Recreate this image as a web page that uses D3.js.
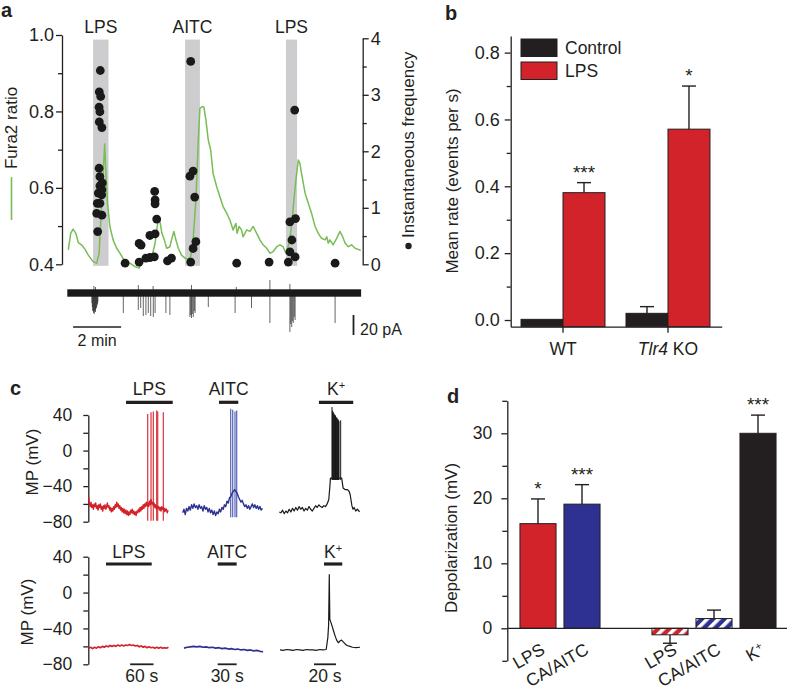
<!DOCTYPE html>
<html><head><meta charset="utf-8">
<script src="https://cdn.jsdelivr.net/npm/d3@7"></script>
<style>
body{margin:0;background:#fff;}
svg{font-family:"Liberation Sans",Arial,Helvetica,sans-serif;display:block;}
</style></head><body>
<svg id="chart" width="788" height="693"></svg>
<script>
// ================= DATA =================
// Panel a: Fura2 ratio trace (time s, ratio)
const furaTime = [0,6,12,19,25,33,42,50,62,71,77,83,88,91,94,98,104,112,121,129,142,154,167,177,183,189,196,204,211,217,221,226,230,234,240,246,254,258,264,269,275,283,292,300,306,312,319,325,329,335,339,344,350,356,362,371,379,387,396,404,412,419,422,427,433,437,446,454,462,471,479,487,496,504,512,521,529,537,544,547,552,558,564,569,575,579,583,592,600,608,617,625,633,642,646,650,654,662,671,679,686,692,700,708,717,725,731];
const furaRatio = [0.438,0.481,0.492,0.481,0.457,0.451,0.439,0.424,0.407,0.403,0.429,0.551,0.656,0.715,0.638,0.560,0.499,0.464,0.442,0.429,0.407,0.403,0.394,0.390,0.403,0.413,0.420,0.422,0.429,0.455,0.490,0.525,0.507,0.481,0.464,0.442,0.446,0.464,0.486,0.464,0.442,0.424,0.416,0.413,0.420,0.464,0.568,0.725,0.808,0.813,0.811,0.778,0.725,0.699,0.638,0.603,0.577,0.551,0.534,0.516,0.490,0.507,0.481,0.499,0.490,0.472,0.490,0.486,0.499,0.481,0.464,0.451,0.442,0.429,0.433,0.446,0.451,0.446,0.429,0.438,0.455,0.499,0.568,0.621,0.673,0.664,0.638,0.586,0.560,0.534,0.499,0.481,0.468,0.464,0.472,0.455,0.464,0.451,0.468,0.486,0.472,0.455,0.446,0.451,0.442,0.439,0.436];
// Panel a: instantaneous frequency events (time s, Hz)
const freqTime  = [80,77.5,81,77,79,77.5,84,77,79,85,79,84,75,83.5,72.5,79,71,84,73.5,142,177,182,177,194,204,215,204,217,221,217,217,216,248,258,306,304,312,316,319,312,306,421,502,566,554,568,559,554,567,550,667];
const freqValue = [3.43,3.05,2.97,2.78,2.70,2.52,2.42,1.70,1.55,1.44,1.39,1.32,1.26,1.23,1.08,1.08,0.90,0.87,0.58,0.02,0.37,0.34,0.04,0.11,0.12,0.13,0.51,0.54,0.80,1.07,1.14,1.29,0.06,0.11,3.59,1.56,1.65,1.19,0.40,0.28,0.04,0.02,0.04,2.73,0.75,0.81,0.43,0.22,0.13,0.04,0.02];
// Panel a: stimulus windows (s)
const stimA      = ["LPS","AITC","LPS"];
const stimAStart = [62,292,544];
const stimAEnd   = [100.5,329,572];
// Panel a: membrane current events (time s, amplitude pA)
const spikeTime = [59,60,61,62,63,64,65,66,67,68,69,70,71,72,73,74,137.5,175,181,187.5,194,200,206,212.5,217,244,254,304,306,308,310,312.5,315,317,350,417,458,504,554,556,558.5,560,562.5,565,567,667,175,212,308,420,504,554,64,68];
const spikeAmp  = [-10,-14,-18,-17,-20,-19,-21,-18,-17,-19,-16,-15,-14,-12,-11,-9,-20,-17,-15,-23,-22,-20,-23,-24,-20,-20,-22,-24,-22,-25,-21,-24,-18,-20,-14,-20,-15,-30,-39,-31,-34,-28,-30,-24,-27,-30,8,7,8,6,13,9,7,6];
const ratioTicks = [0.4,0.6,0.8,1.0];
const ratioMinorTicks = [0.5,0.7,0.9];
const freqTicks = [0,1,2,3,4];
const freqMinorTicks = [0.5,1.5,2.5,3.5];

// Panel b
const genotypes = ["WT","Tlr4 KO"];
const rateSeries = ["Control","LPS"];
const rateControl    = [0.002,0.02];
const rateControlTop = [0.002,0.04];
const rateLPS        = [0.381,0.571];
const rateLPSTop     = [0.411,0.70];
const rateStars      = ["***","*"];
const rateTicks = [0,0.2,0.4,0.6,0.8];
const rateMinorTicks = [0.1,0.3,0.5,0.7];

// Panel c: traces (mV)
const cTopLpsStep = 2;
const cTopLps = [-52,-60,-63,-58,-64,-61,-66,-60,-63,-59,-65,-62,-67,-61,-64,-60,-66,-63,-68,-62,-65,-61,-66,-63,-59,-64,-62,-67,-64,-69,-65,-68,-63,-66,-61,-64,-58,-63,-60,-65,-62,-67,-64,-69,-65,-70,-66,-71,-67,-72,-68,-73,-69,-72,-67,-70,-66,-71,-68,-72,-69,-73,-68,-70,-66,-69,-64,-68,-63,-66,-61,-65,-60,-63,-58,-62,-59,-63,-57,-61,-55,-60,-58,-62,-59,-64,-61,-66,-62,-65,-63,-67,-64,-68,-63,-66,-64,-69,-65,-68,-66,-70,-67];
const cTopLpsSpikeT = [151.7,160.2,166.1,174.8,177.4,191.8];
const cTopLpsSpikePeak = [41,43,44,45,44,43];
const cTopAitcStep = 2;
const cTopAitc = [-70,-66,-72,-65,-68,-63,-67,-61,-65,-60,-64,-62,-66,-61,-65,-63,-68,-62,-66,-64,-69,-65,-70,-67,-72,-68,-73,-69,-71,-66,-69,-64,-66,-61,-63,-57,-59,-53,-52,-48,-46,-44,-46,-48,-52,-55,-58,-56,-60,-63,-61,-65,-62,-66,-63,-60,-64,-61,-65,-62,-66,-63,-67,-65];
const cTopAitcSpikeT = [75.8,79,82.6,85.3];
const cTopAitcSpikePeak = [47,46,44,45];
const cTopKT = [0,1.5,3,4.5,6,7.5,9,10.5,12,13.5,15,16.5,18,19.5,21,22.5,24,25.5,27,28.5,30,31.5,33,34.5,36,37.5,39,40.5,42,43.5,45,46,46.5,56.7,58,60,62,63.5,64.5,66,67,68,69.5,71,73];
const cTopKV = [-69,-70,-67,-71,-68,-70,-66,-69,-65,-68,-64,-67,-63,-66,-64,-68,-65,-67,-63,-66,-68,-65,-62,-64,-61,-63,-64,-62,-63,-60,-55,-40,-31,-31,-42,-44,-44,-46,-50,-62,-66,-64,-68,-66,-69];
const cTopKSpikeT = [47.9,48.3,48.7,49.1,49.5,49.9,50.3,50.7,51.1,51.5,51.9,52.3,52.7,53.1,53.5,53.9,54.3,55.8];
const cTopKSpikePeak = [49,45,44,43,42,41,40,40,39,38,37,37,36,35,35,34,33,34];
const cBotLpsStep = 5;
const cBotLps = [-62,-61,-62.5,-61,-62,-60.5,-61.5,-60,-61,-59.5,-60.5,-59,-60,-59,-60,-58.5,-59.5,-58.5,-59.5,-58.5,-59,-58,-59,-58.5,-59.5,-59,-60.5,-59.5,-61,-60,-61.5,-60.5,-61.5,-61,-62,-61,-62,-61,-62,-61.5,-62,-61];
const cBotAitcStep = 5;
const cBotAitc = [-62,-61,-60.5,-60,-60.5,-60,-61,-60.5,-61.5,-61,-62,-61.5,-62.5,-62,-63,-62.5,-63.5,-63,-64,-63.5,-64.5,-64,-65,-64.5,-65.5,-66];
const cBotKT = [0,3,6,9,12,15,18,21,24,27,30,33,36,39,42,43.5,44.2,44.8,45.3,46.2,47,48.5,50,51.5,53,54.5,56,57.5,59,61,63.6,66,69,72.7];
const cBotKV = [-64,-64.5,-63.5,-64,-64.5,-63.5,-64,-64.5,-63.5,-64,-64,-64.5,-63.5,-64,-63.5,-50,-36,20,-30,-33,-36,-42,-48,-53,-56,-54,-53,-55,-57,-59,-60,-61,-61.5,-61];
const cStim = ["LPS","AITC","K⁺"];
const cTopStimStart = [96,57.3,36];
const cTopStimEnd   = [216,87.8,67.2];
const cBotStimStart = [44.5,53.2,40];
const cBotStimEnd   = [162,83.2,56.6];
const cScaleLabel = ["60 s","30 s","20 s"];
const cScaleStart = [106.5,53.2,30.9];
const cScaleLen   = [60,30,20];
const mvTicks = [-80,-40,0,40];
const mvMinorTicks = [-60,-20,20];

// Panel d
const depolGroup = ["WT","WT","KO","KO","KO"];
const depolLabel = ["LPS","CA/AITC","LPS","CA/AITC","K⁺"];
const depolValue = [16.1,19.1,-1.0,1.5,30.0];
const depolErrEnd = [19.9,22.1,-2.3,2.8,32.8];
const depolStars = ["*","***","","","***"];
const depolTicks = [0,10,20,30];
const depolMinorTicks = [-5,5,15,25,35];

// ================= DRAW =================
const INK = "#231f20";
const RED = "#d2232a", BLUE = "#2e3192", BLACK = "#231f20";
const GREEN = "#78bd55";
const TICKFS = 18, LABFS = 17, STARFS = 19;
const svg = d3.select("#chart");
const defs = svg.append("defs");
function hatch(id, color){
  const p = defs.append("pattern").attr("id",id).attr("patternUnits","userSpaceOnUse")
    .attr("width",8).attr("height",8).attr("patternTransform","rotate(45)");
  p.append("rect").attr("width",8).attr("height",8).attr("fill",color);
  p.append("rect").attr("width",3.6).attr("height",8).attr("fill","#fff");
}
hatch("hRed",RED); hatch("hBlue",BLUE);

function txt(g,x,y,s,o={}){
  const t=g.append("text").attr("x",x).attr("y",y).text(s)
    .attr("font-size",o.fs||LABFS).attr("fill",o.fill||INK).attr("text-anchor",o.anchor||"start");
  if(o.weight) t.attr("font-weight",o.weight);
  if(o.tr) t.attr("transform",o.tr);
  return t;
}
function styleAxis(g,fs){
  g.attr("font-size",fs).attr("font-family",null);
  g.selectAll("path.domain").attr("stroke",INK).attr("stroke-width",1.3);
  g.selectAll(".tick line").attr("stroke",INK).attr("stroke-width",1.3);
  g.selectAll(".tick text").attr("fill",INK);
  return g;
}
function minor(g){ g.select(".domain").remove(); g.selectAll(".tick line").attr("stroke",INK).attr("stroke-width",1.3); }

// ---------- Panel a ----------
const gA = svg.append("g");
txt(gA,1,17,"a",{fs:20,weight:"bold"});
const xA = d3.scaleLinear().domain([0,732]).range([68.3,361.1]);
const yL = d3.scaleLinear().domain([0.4,1.0]).range([264.3,35]);
const yR = d3.scaleLinear().domain([0,4]).range([264.3,38.3]);
const yI = d3.scaleLinear().domain([-40,10]).range([333,283]);

const stimRows = stimA.map((s,i)=>({s,a:stimAStart[i],b:stimAEnd[i]}));
gA.selectAll("rect.band").data(stimRows).join("rect").attr("class","band")
  .attr("x",d=>xA(d.a)).attr("width",d=>xA(d.b)-xA(d.a))
  .attr("y",yL(0.988)).attr("height",yL(0.396)-yL(0.988)).attr("fill","#cdcdcf");
gA.selectAll("text.stim").data(stimRows).join("text").attr("class","stim")
  .attr("x",d=>xA((d.a+d.b)/2)).attr("y",33).attr("text-anchor","middle")
  .attr("font-size",17.5).attr("fill",INK).text(d=>d.s);

styleAxis(gA.append("g").attr("transform","translate(62,0)")
  .call(d3.axisLeft(yL).tickValues(ratioTicks).tickFormat(d3.format(".1f")).tickSize(6).tickSizeOuter(0).tickPadding(2)),TICKFS);
minor(gA.append("g").attr("transform","translate(62,0)")
  .call(d3.axisLeft(yL).tickValues(ratioMinorTicks).tickFormat("").tickSize(4).tickSizeOuter(0)));
styleAxis(gA.append("g").attr("transform","translate(362.7,0)")
  .call(d3.axisRight(yR).tickValues(freqTicks).tickFormat(d3.format("d")).tickSize(6).tickSizeOuter(0).tickPadding(2)),TICKFS);
minor(gA.append("g").attr("transform","translate(362.7,0)")
  .call(d3.axisRight(yR).tickValues(freqMinorTicks).tickFormat("").tickSize(4).tickSizeOuter(0)));

gA.append("path").datum(furaTime.map((t,i)=>[t,furaRatio[i]]))
  .attr("d",d3.line().x(d=>xA(d[0])).y(d=>yL(d[1])))
  .attr("fill","none").attr("stroke",GREEN).attr("stroke-width",1.5).attr("stroke-linejoin","round");
gA.selectAll("circle.ev").data(freqTime.map((t,i)=>[t,freqValue[i]])).join("circle").attr("class","ev")
  .attr("cx",d=>xA(d[0])).attr("cy",d=>yR(d[1])).attr("r",4.4).attr("fill","#1a1a1a");

// current trace
gA.selectAll("line.sp").data(spikeTime.map((t,i)=>[t,spikeAmp[i]])).join("line").attr("class","sp")
  .attr("x1",d=>xA(d[0])).attr("x2",d=>xA(d[0])).attr("y1",yI(0)).attr("y2",d=>yI(d[1]))
  .attr("stroke","#333").attr("stroke-width",1).attr("opacity",0.75);
gA.append("rect").attr("x",xA(0)-1).attr("width",xA(732)-xA(0)+1)
  .attr("y",yI(3.7)).attr("height",yI(-3.7)-yI(3.7)).attr("fill","#1a1a1a");
gA.append("line").attr("x1",xA(12)).attr("x2",xA(132)).attr("y1",327).attr("y2",327).attr("stroke",INK).attr("stroke-width",1.5);
txt(gA,xA(72),346,"2 min",{anchor:"middle",fs:16});
gA.append("line").attr("x1",353.5).attr("x2",353.5).attr("y1",yI(-22)).attr("y2",yI(-42)).attr("stroke",INK).attr("stroke-width",1.8);
txt(gA,360,335,"20 pA",{fs:16});

// axis titles a
txt(gA,0,0,"Fura2 ratio",{anchor:"middle",tr:"translate(17,128) rotate(-90)"});
gA.append("line").attr("x1",11.5).attr("x2",11.5).attr("y1",177).attr("y2",220).attr("stroke",GREEN).attr("stroke-width",1.6);
gA.append("circle").attr("cx",408.5).attr("cy",246).attr("r",3.2).attr("fill",INK);
txt(gA,0,0,"Instantaneous frequency",{anchor:"start",tr:"translate(414,238) rotate(-90)"});

// ---------- Panel b ----------
const gB = svg.append("g");
txt(gB,445,20,"b",{fs:20,weight:"bold"});
const xB = d3.scaleBand().domain(genotypes).range([510,721]).paddingInner(0.2).paddingOuter(0.105);
const xBs = d3.scaleBand().domain(rateSeries).range([0,xB.bandwidth()]);
const yB = d3.scaleLinear().domain([-0.02,0.85]).range([326.7,35.9]);
const colB = {Control:BLACK, LPS:RED};
const rows = [];
genotypes.forEach((g,i)=>{
  rows.push({g,s:"Control",v:rateControl[i],top:rateControlTop[i],star:""});
  rows.push({g,s:"LPS",v:rateLPS[i],top:rateLPSTop[i],star:rateStars[i]});
});
const barCx = d=>xB(d.g)+xBs(d.s)+xBs.bandwidth()/2;
gB.selectAll("g.err").data(rows.filter(d=>d.top>d.v)).join("g").attr("class","err").each(function(d){
  const g=d3.select(this), cx=barCx(d);
  g.append("line").attr("x1",cx).attr("x2",cx).attr("y1",yB(d.v)).attr("y2",yB(d.top)).attr("stroke",INK).attr("stroke-width",1.4);
  g.append("line").attr("x1",cx-7).attr("x2",cx+7).attr("y1",yB(d.top)).attr("y2",yB(d.top)).attr("stroke",INK).attr("stroke-width",1.4);
});
gB.selectAll("rect.bar").data(rows).join("rect").attr("class","bar")
  .attr("x",d=>xB(d.g)+xBs(d.s)).attr("width",xBs.bandwidth())
  .attr("y",d=>yB(d.v)).attr("height",d=>yB(-0.02)-yB(d.v))
  .attr("fill",d=>colB[d.s]).attr("stroke",INK).attr("stroke-width",1);
gB.selectAll("text.star").data(rows.filter(d=>d.star)).join("text").attr("class","star")
  .attr("x",barCx).attr("y",d=>yB(d.top)-4).attr("text-anchor","middle").attr("font-size",STARFS).attr("fill",INK).text(d=>d.star);
styleAxis(gB.append("g").attr("transform","translate(510.7,0)")
  .call(d3.axisLeft(yB).tickValues(rateTicks).tickFormat(d3.format(".1f")).tickSize(6).tickSizeOuter(0).tickPadding(5)),TICKFS);
minor(gB.append("g").attr("transform","translate(510.7,0)")
  .call(d3.axisLeft(yB).tickValues(rateMinorTicks).tickFormat("").tickSize(4).tickSizeOuter(0)));
const axBx = gB.append("g").attr("transform",`translate(0,${yB(-0.02)})`)
  .call(d3.axisBottom(d3.scaleLinear().domain([0,1]).range([510.7,721.7])).tickValues([]).tickSizeOuter(0));
styleAxis(axBx,17);
genotypes.forEach(g=>{
  const cx = xB(g)+xB.bandwidth()/2;
  gB.append("line").attr("x1",cx).attr("x2",cx).attr("y1",yB(-0.02)).attr("y2",yB(-0.02)+6).attr("stroke",INK).attr("stroke-width",1.3);
  const t = gB.append("text").attr("x",cx).attr("y",355).attr("text-anchor","middle").attr("font-size",17.5).attr("fill",INK);
  const parts = g.split(" ");
  if(parts.length>1){ t.append("tspan").attr("font-style","italic").text(parts[0]); t.append("tspan").text(" "+parts.slice(1).join(" ")); }
  else t.text(g);
});
// legend
rateSeries.forEach((s,i)=>{
  gB.append("rect").attr("x",521).attr("y",39+i*23).attr("width",36).attr("height",17.5).attr("fill",colB[s]).attr("stroke",INK).attr("stroke-width",1);
  txt(gB,565,54+i*23,s,{fs:17.5});
});
txt(gB,0,0,"Mean rate (events per s)",{anchor:"middle",tr:"translate(458,181) rotate(-90)"});

// ---------- Panel c ----------
const gC = svg.append("g");
txt(gC,10,395,"c",{fs:20,weight:"bold"});
const yC = [d3.scaleLinear().domain([-80,40]).range([521.7,415]), d3.scaleLinear().domain([-80,40]).range([664.3,556.7])];
const colX0 = [[88.7,182.7,279.3],[88.7,184,280]];
const pxPerSec = [0.389,0.633,1.1];
const colColor = [RED,BLUE,"#1a1a1a"];
const spikeColor = ["#d9333d","#5a63b8","#1a1a1a"];
function xC(row,col){ return t=>colX0[row][col]+t*pxPerSec[col]; }
yC.forEach((y,r)=>{
  styleAxis(gC.append("g").attr("transform","translate(88.3,0)")
    .call(d3.axisLeft(y).tickValues(mvTicks).tickFormat(d3.format("d")).tickSize(5).tickSizeOuter(0).tickPadding(11)),17.5);
  minor(gC.append("g").attr("transform","translate(88.3,0)")
    .call(d3.axisLeft(y).tickValues(mvMinorTicks).tickFormat("").tickSize(5).tickSizeOuter(0)));
});
txt(gC,0,0,"MP (mV)",{anchor:"middle",tr:"translate(38,462) rotate(-90)"});
txt(gC,0,0,"MP (mV)",{anchor:"middle",tr:"translate(33,612) rotate(-90)"});
const lineC = (r,c)=>d3.line().x(d=>xC(r,c)(d[0])).y(d=>yC[r](d[1]));
const traces = [
  [0,0,cTopLps.map((v,i)=>[i*cTopLpsStep,v]),1.4],
  [0,1,cTopAitc.map((v,i)=>[i*cTopAitcStep,v]),1.4],
  [0,2,cTopKT.map((t,i)=>[t,cTopKV[i]]),1.2],
  [1,0,cBotLps.map((v,i)=>[i*cBotLpsStep,v]),1.7],
  [1,1,cBotAitc.map((v,i)=>[i*cBotAitcStep,v]),1.7],
  [1,2,cBotKT.map((t,i)=>[t,cBotKV[i]]),1.2]
];
const spikes = [
  [0,cTopLpsSpikeT,cTopLpsSpikePeak,-79],
  [1,cTopAitcSpikeT,cTopAitcSpikePeak,-75],
  [2,cTopKSpikeT,cTopKSpikePeak,-33]
];
spikes.forEach(([c,ts,ps,tr])=>{
  gC.selectAll(null).data(ts.map((t,i)=>[t,ps[i]])).join("line")
    .attr("x1",d=>xC(0,c)(d[0])).attr("x2",d=>xC(0,c)(d[0]))
    .attr("y1",yC[0](tr)).attr("y2",d=>yC[0](d[1]))
    .attr("stroke",spikeColor[c]).attr("stroke-width",c===2?1:1.2);
});
traces.forEach(([r,c,data,w])=>{
  gC.append("path").datum(data).attr("d",lineC(r,c)).attr("fill","none")
    .attr("stroke",colColor[c]).attr("stroke-width",w).attr("stroke-linejoin","round");
});
// stimulus bars & labels
[[cTopStimStart,cTopStimEnd,402.3,395],[cBotStimStart,cBotStimEnd,564,558]].forEach(([st,en,by,ty],r)=>{
  cStim.forEach((s,c)=>{
    const x1=xC(r,c)(st[c]), x2=xC(r,c)(en[c]);
    gC.append("line").attr("x1",x1).attr("x2",x2).attr("y1",by).attr("y2",by).attr("stroke",INK).attr("stroke-width",3.2);
    const t = gC.append("text").attr("x",(x1+x2)/2).attr("y",ty).attr("text-anchor","middle").attr("font-size",17.5).attr("fill",INK);
    if(s==="K⁺"){ t.append("tspan").text("K"); t.append("tspan").attr("font-size",11).attr("dy",-6).text("+"); }
    else t.text(s);
  });
});
cScaleLabel.forEach((s,c)=>{
  const x1=xC(1,c)(cScaleStart[c]), x2=xC(1,c)(cScaleStart[c]+cScaleLen[c]);
  gC.append("line").attr("x1",x1).attr("x2",x2).attr("y1",664.3).attr("y2",664.3).attr("stroke",INK).attr("stroke-width",1.8);
  txt(gC,(x1+x2)/2,682,s,{anchor:"middle",fs:17.5});
});

// ---------- Panel d ----------
const gD = svg.append("g");
txt(gD,447,403,"d",{fs:20,weight:"bold"});
const dRows = depolLabel.map((l,i)=>({key:depolGroup[i]+":"+l,g:depolGroup[i],l,v:depolValue[i],e:depolErrEnd[i],star:depolStars[i]}));
const dKeys = [];
dRows.forEach((d,i)=>{ if(i>0 && d.g!==dRows[i-1].g) dKeys.push("gap"); dKeys.push(d.key); });
const xD = d3.scaleBand().domain(dKeys).range([516,780]).paddingInner(0.18).paddingOuter(0.09);
const yD = d3.scaleLinear().domain([-5,35]).range([660.8,400.8]);
const fillD = d=>{
  const base = d.l==="LPS"?"Red":(d.l==="CA/AITC"?"Blue":"Black");
  if(base==="Black") return BLACK;
  return d.g==="KO" ? `url(#h${base})` : (base==="Red"?RED:BLUE);
};
dRows.forEach(d=>{
  const cx = xD(d.key)+xD.bandwidth()/2;
  gD.append("line").attr("x1",cx).attr("x2",cx).attr("y1",yD(d.v)).attr("y2",yD(d.e)).attr("stroke",INK).attr("stroke-width",1.4);
  gD.append("line").attr("x1",cx-7).attr("x2",cx+7).attr("y1",yD(d.e)).attr("y2",yD(d.e)).attr("stroke",INK).attr("stroke-width",1.4);
});
gD.selectAll("rect.bar").data(dRows).join("rect").attr("class","bar")
  .attr("x",d=>xD(d.key)).attr("width",xD.bandwidth())
  .attr("y",d=>yD(Math.max(0,d.v))).attr("height",d=>Math.abs(yD(0)-yD(d.v)))
  .attr("fill",fillD).attr("stroke",INK).attr("stroke-width",1);
gD.selectAll("text.star").data(dRows.filter(d=>d.star)).join("text").attr("class","star")
  .attr("x",d=>xD(d.key)+xD.bandwidth()/2).attr("y",d=>yD(d.e)-4).attr("text-anchor","middle")
  .attr("font-size",STARFS).attr("fill",INK).text(d=>d.star);
gD.append("line").attr("x1",507.3).attr("x2",787).attr("y1",yD(0)).attr("y2",yD(0)).attr("stroke",INK).attr("stroke-width",1.3);
styleAxis(gD.append("g").attr("transform","translate(507.3,0)")
  .call(d3.axisLeft(yD).tickValues(depolTicks).tickFormat(d3.format("d")).tickSize(6).tickSizeOuter(0).tickPadding(9)),17.5);
minor(gD.append("g").attr("transform","translate(507.3,0)")
  .call(d3.axisLeft(yD).tickValues(depolMinorTicks).tickFormat("").tickSize(5).tickSizeOuter(0)));
dRows.forEach(d=>{
  const cx = xD(d.key)+xD.bandwidth()/2;
  const t = gD.append("text").attr("text-anchor","end").attr("font-size",17.5).attr("fill",INK)
    .attr("transform",`translate(${cx+8},653) rotate(-30)`);
  if(d.l==="K⁺"){ t.append("tspan").text("K"); t.append("tspan").attr("font-size",11).attr("dy",-6).text("+"); }
  else t.text(d.l);
});
txt(gD,0,0,"Depolarization (mV)",{anchor:"middle",tr:"translate(457,538) rotate(-90)"});
</script>
</body></html>
